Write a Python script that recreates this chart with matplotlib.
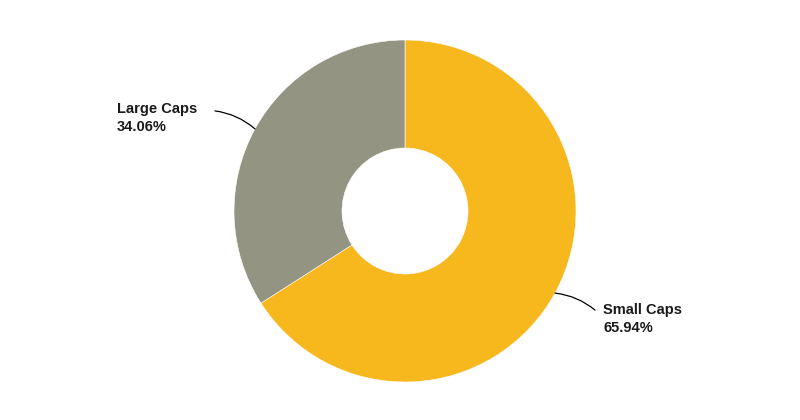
import numpy as np
import matplotlib.pyplot as plt

labels = ["Small Caps", "Large Caps"]
values = [65.94, 34.06]
colors = ["#F7B81E", "#949483"]

plt.rcParams['font.family'] = ['Liberation Sans', 'DejaVu Sans']

fig = plt.figure(figsize=(8, 4.2), dpi=100)
ax = fig.add_axes([0, 0, 1, 1])

cx, cy, r = 405, 209, 171
wedges, _ = ax.pie(values, colors=colors, startangle=90, counterclock=False,
                   center=(cx, cy), radius=r, frame=True,
                   wedgeprops=dict(width=r - 63, edgecolor='white', linewidth=0.4))
ax.set_xlim(0, 800)
ax.set_ylim(0, 420)
ax.set_aspect('equal')
ax.axis('off')

for w, lab, v in zip(wedges, labels, values):
    mid = np.deg2rad((w.theta1 + w.theta2) / 2)
    px, py = cx + r * np.cos(mid), cy + r * np.sin(mid)
    side = 1 if np.cos(mid) > 0 else -1
    ex, ey = px + side * 40, py + (18 if side < 0 else -17)
    ax.annotate('', xy=(px, py), xytext=(ex, ey),
                arrowprops=dict(arrowstyle='-', color='black', lw=0.9,
                                shrinkA=0, shrinkB=0,
                                connectionstyle='arc3,rad=%s' % (0.15 * side)))
    if side > 0:
        tx, ty = ex + 8, ey - 9
    else:
        tx, ty = ex - 98, ey - 7
    ax.text(tx, ty, f"{lab}\n{v:.2f}%", ha='left', va='center',
            fontsize=10.5, fontweight='bold', color='#1a1a1a', linespacing=1.3)

fig.savefig('out.png', dpi=100)
